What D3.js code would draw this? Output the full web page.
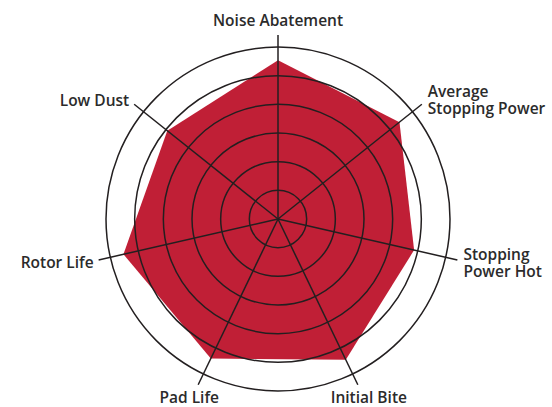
<!DOCTYPE html>
<html>
<head>
<meta charset="utf-8">
<script src="https://cdn.jsdelivr.net/npm/d3@7"></script>
<style>
  body { margin: 0; background: #fff; }
  svg { display: block; }
  .label { font-family: "Open Sans", sans-serif; font-size: 15.5px; font-weight: 600; fill: #2b2b2b; }
</style>
</head>
<body>
<svg width="552" height="407"></svg>
<script>
const categories = [
    ["Noise Abatement"],
    ["Average", "Stopping Power"],
    ["Stopping", "Power Hot"],
    ["Initial Bite"],
    ["Pad Life"],
    ["Rotor Life"],
    ["Low Dust"]
];
const values = [5.54, 5.42, 4.87, 5.45, 5.40, 5.53, 4.94];
const ringTicks = [1, 2, 3, 4, 5, 6];

const cx = 278, cy = 219;
const radius = 172;

const svg = d3.select("svg");
const g = svg.append("g").attr("transform", `translate(${cx},${cy})`);

const r = d3.scaleLinear().domain([0, 6]).range([0, radius]);
const angle = d3.scaleLinear().domain([0, categories.length]).range([0, 2 * Math.PI]);

// Filled area
const line = d3.lineRadial()
    .angle((d, i) => angle(i))
    .radius(d => r(d))
    .curve(d3.curveLinearClosed);

g.append("path")
    .datum(values)
    .attr("d", line)
    .attr("fill", "#c01f36");

// Rings
g.selectAll("circle.ring")
    .data(ringTicks)
    .enter()
    .append("circle")
    .attr("class", "ring")
    .attr("r", d => r(d))
    .attr("fill", "none")
    .attr("stroke", "#231f20")
    .attr("stroke-width", 1.5);

// Spokes
const axisLen = radius + 12;
g.selectAll("line.spoke")
    .data(categories)
    .enter()
    .append("line")
    .attr("class", "spoke")
    .attr("x1", 0).attr("y1", 0)
    .attr("x2", (d, i) => axisLen * Math.sin(angle(i)))
    .attr("y2", (d, i) => -axisLen * Math.cos(angle(i)))
    .attr("stroke", "#231f20")
    .attr("stroke-width", 1.5);

// Labels (one text per line)
const lineH = 17;
categories.forEach((lines, i) => {
    const a = angle(i);
    const sx = Math.sin(a), sy = -Math.cos(a);
    let x = axisLen * sx, y = axisLen * sy;
    let anchor = "middle";
    let top;
    const n = lines.length;
    if (Math.abs(sx) < 0.1) {
        top = y - 5 - n * lineH;
    } else if (sy > 0.8) {
        x += sx > 0 ? 11 : -9;
        top = y + 5;
    } else {
        anchor = sx > 0 ? "start" : "end";
        x += sx > 0 ? 6 : -5;
        top = y - n * lineH / 2 + (sy > 0 ? 4 : -3);
    }
    lines.forEach((s, k) => {
        g.append("text")
            .attr("class", "label")
            .attr("text-anchor", anchor)
            .attr("x", x)
            .attr("y", top + (k + 1) * lineH - 4)
            .text(s);
    });
});
</script>
</body>
</html>
